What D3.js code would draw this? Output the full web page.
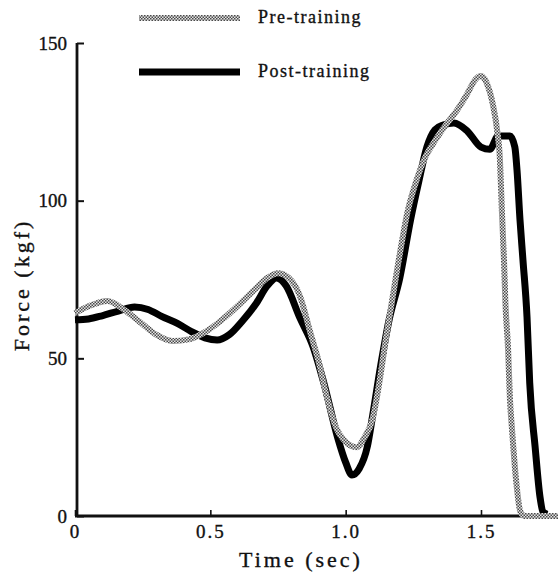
<!DOCTYPE html>
<html>
<head>
<meta charset="utf-8">
<script src="https://cdn.jsdelivr.net/npm/d3@7"></script>
<style>
  html, body { margin: 0; padding: 0; background: #fff; }
  svg { display: block; }
  text { font-family: "Liberation Serif", "DejaVu Serif", serif; fill: #111; stroke: #111; stroke-width: 0.35px; }
</style>
</head>
<body>
<svg id="chart" width="558" height="575"></svg>
<script>
// ---- data ----
const preTime  = [0.00,0.05,0.12,0.18,0.24,0.30,0.36,0.42,0.48,0.54,0.60,0.66,0.71,0.75,0.79,0.83,0.87,0.90,0.93,0.96,1.00,1.04,1.07,1.10,1.12,1.15,1.19,1.23,1.26,1.29,1.33,1.37,1.41,1.45,1.48,1.50,1.52,1.545,1.56,1.57,1.577,1.585,1.59,1.60,1.607,1.615,1.63,1.645,1.66,1.79];
const preForce = [64.3,66.5,68.2,65.5,61.5,57.5,55.5,56.0,58.3,62.0,66.5,71.5,75.5,77.0,75.5,70.0,58.0,49.0,38.0,29.0,23.5,21.8,25.0,31.0,40.0,57.0,78.0,97.0,106.0,113.0,119.0,124.0,128.5,134.0,138.5,139.5,137.5,130.0,122.0,113.0,97.0,81.0,68.0,53.0,37.0,27.0,11.0,1.5,0,0];

const postTime  = [0.00,0.05,0.10,0.16,0.22,0.27,0.32,0.38,0.43,0.48,0.525,0.57,0.62,0.67,0.71,0.745,0.78,0.83,0.88,0.92,0.97,1.00,1.023,1.05,1.08,1.10,1.13,1.16,1.20,1.24,1.27,1.30,1.33,1.36,1.40,1.45,1.50,1.533,1.563,1.607,1.625,1.633,1.644,1.655,1.67,1.68,1.70,1.718,1.729,1.745];
const postForce = [62.2,62.5,63.5,65.0,66.3,65.5,63.3,61.0,58.5,56.5,55.8,57.5,62.0,67.5,73.0,75.5,73.0,63.0,53.6,42.0,25.0,17.0,13.0,15.0,22.0,32.0,48.0,62.0,75.5,94.0,106.0,117.0,122.5,124.0,124.6,122.0,117.0,116.3,120.5,120.5,117.0,109.7,94.0,81.2,63.1,42.2,21.9,6.0,1.3,0.5];

const xTicks = [0, 0.5, 1.0, 1.5];
const xTickLabels = ["0", "0.5", "1.0", "1.5"];
const yTicks = [0, 50, 100, 150];
const yTickLabels = ["0", "50", "100", "150"];
const seriesNames = ["Pre-training", "Post-training"];

// ---- layout ----
const svg = d3.select("#chart");
const x = d3.scaleLinear().domain([0, 1.5]).range([75, 481]);
const y = d3.scaleLinear().domain([0, 150]).range([516, 43]);

// checker pattern for the pre-training line
const defs = svg.append("defs");
const pat = defs.append("pattern").attr("id", "checker")
  .attr("patternUnits", "userSpaceOnUse").attr("width", 3).attr("height", 3);
pat.append("rect").attr("width", 3).attr("height", 3).attr("fill", "#e4e4e4");
pat.append("rect").attr("x", 0).attr("y", 0).attr("width", 1.5).attr("height", 1.5).attr("fill", "#4a4a4a");
pat.append("rect").attr("x", 1.5).attr("y", 1.5).attr("width", 1.5).attr("height", 1.5).attr("fill", "#4a4a4a");

// axes
const axisY = d3.axisLeft(y).tickValues(yTicks).tickSize(-7).tickPadding(10)
  .tickFormat((d, i) => yTickLabels[i]);
const gy = svg.append("g").attr("transform", `translate(${x(0) + 2},0)`).call(axisY);
gy.select(".domain").remove();
gy.append("line").attr("x1", 0).attr("x2", 0).attr("y1", y(150)).attr("y2", y(0) + 1)
  .attr("stroke", "#111").attr("stroke-width", 2.8);
gy.selectAll(".tick line").attr("stroke", "#111").attr("stroke-width", 2);
gy.selectAll(".tick text").attr("font-size", 19).attr("fill", "#111")
  .attr("font-family", "'Liberation Serif', serif");

const axisX = d3.axisBottom(x).tickValues(xTicks).tickSize(-6).tickPadding(9)
  .tickFormat((d, i) => xTickLabels[i]);
const gx = svg.append("g").attr("transform", `translate(0,${y(0)})`).call(axisX);
gx.select(".domain").remove();
gx.append("line").attr("x1", x(0)).attr("x2", x(1.66)).attr("y1", 0).attr("y2", 0)
  .attr("stroke", "#111").attr("stroke-width", 2.8);
gx.selectAll(".tick line").attr("stroke", "#111").attr("stroke-width", 1.6);
gx.selectAll(".tick text").attr("font-size", 19).attr("fill", "#111")
  .attr("letter-spacing", 2).attr("font-family", "'Liberation Serif', serif");

// axis titles
svg.append("text").attr("x", 301).attr("y", 567).attr("text-anchor", "middle")
  .attr("font-size", 22).attr("letter-spacing", 3).text("Time (sec)");
svg.append("text").attr("transform", "translate(29,285) rotate(-90)")
  .attr("text-anchor", "middle").attr("font-size", 22).attr("letter-spacing", 3)
  .text("Force (kgf)");

// lines
const line = d3.line().x(d => x(d[0])).y(d => y(d[1])).curve(d3.curveMonotoneX);
const postData = postTime.map((t, i) => [t, postForce[i]]);
const preData = preTime.map((t, i) => [t, preForce[i]]);

svg.append("path").datum(postData).attr("d", line)
  .attr("fill", "none").attr("stroke", "#000").attr("stroke-width", 7)
  .attr("stroke-linejoin", "round");
svg.append("path").datum(preData).attr("d", line)
  .attr("fill", "none").attr("stroke", "url(#checker)").attr("stroke-width", 6)
  .attr("stroke-linejoin", "round");

// legend
const legend = svg.append("g");
legend.append("line").attr("x1", 139).attr("x2", 240).attr("y1", 18).attr("y2", 18)
  .attr("stroke", "url(#checker)").attr("stroke-width", 6);
legend.append("text").attr("x", 258).attr("y", 19).attr("dominant-baseline", "middle")
  .attr("font-size", 18).attr("letter-spacing", 1.5).text(seriesNames[0]);
legend.append("line").attr("x1", 139).attr("x2", 240).attr("y1", 72).attr("y2", 72)
  .attr("stroke", "#000").attr("stroke-width", 7);
legend.append("text").attr("x", 258).attr("y", 73).attr("dominant-baseline", "middle")
  .attr("font-size", 18).attr("letter-spacing", 1.5).text(seriesNames[1]);
</script>
</body>
</html>
